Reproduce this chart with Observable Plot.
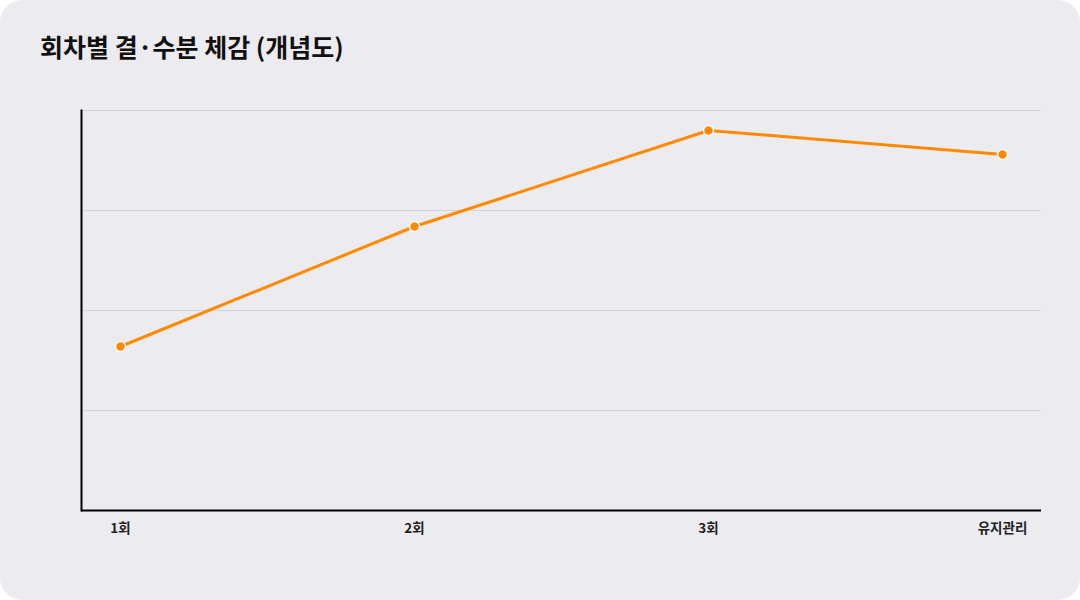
<!DOCTYPE html>
<html>
<head>
<meta charset="utf-8">
<script src="https://cdn.jsdelivr.net/npm/d3@7"></script>
<script src="https://cdn.jsdelivr.net/npm/@observablehq/plot@0.6"></script>
<style>
  html, body { margin: 0; padding: 0; background: #ffffff; }
  #card {
    position: relative; width: 1080px; height: 600px; box-sizing: border-box;
    background: #ecebf0; border-radius: 22px; overflow: hidden;
    font-family: "Noto Sans CJK KR", "Noto Sans", sans-serif;
  }
  #title {
    height: 90px; box-sizing: border-box; padding: 28px 0 0 40px;
    font-size: 25px; font-weight: 700; color: #111; letter-spacing: 0px;
    line-height: 36px;
  }
  #chart svg { display: block; }
</style>
</head>
<body>
<div id="card">
  <div id="title">회차별 결·수분 체감 (개념도)</div>
  <div id="chart"></div>
</div>
<script>
const sessions = ["1회", "2회", "3회", "유지관리"];
const feel = [41, 71, 95, 89];
const gridTicks = [25, 50, 75, 100];

const data = sessions.map((s, i) => ({session: s, value: feel[i]}));

const chart = Plot.plot({
  width: 1080,
  height: 510,
  marginTop: 20,
  marginBottom: 90,
  marginLeft: 81,
  marginRight: 39,
  style: {background: "transparent", fontFamily: "'Noto Sans CJK KR', sans-serif"},
  x: {type: "point", domain: sessions, padding: 0.13, label: null},
  y: {domain: [0, 100], label: null},
  marks: [
    Plot.gridY(gridTicks, {stroke: "#d4d3d8", strokeOpacity: 1, strokeWidth: 1}),
    Plot.axisX({tickSize: 0, tickPadding: 13, fontSize: 13.5, fontWeight: 700, fill: "#222", label: null}),
    Plot.axisY({ticks: [], label: null}),
    Plot.frame({anchor: "left", stroke: "#000", strokeWidth: 2}),
    Plot.ruleY([0], {stroke: "#000", strokeWidth: 2}),
    Plot.line(data, {x: "session", y: "value", stroke: "#ff8a00", strokeWidth: 3}),
    Plot.dot(data, {x: "session", y: "value", r: 5, fill: "#ff8a00", stroke: "#ffffff", strokeWidth: 1.5})
  ]
});
document.getElementById("chart").appendChild(chart);
</script>
</body>
</html>
